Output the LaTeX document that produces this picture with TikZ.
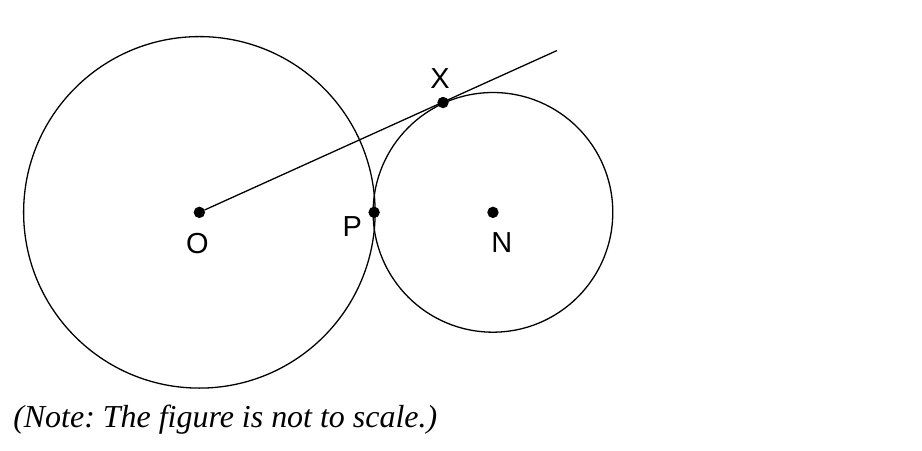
\documentclass[tikz,border=0pt]{standalone}
\usepackage{fontspec}
\setmainfont{Liberation Serif}
\setsansfont{Liberation Sans}
\usetikzlibrary{positioning,calc}
\frenchspacing
\tikzstyle{dot}=[circle,fill=black,draw=black,minimum size=10pt,inner sep=0pt]
\tikzstyle{ptlabel}=[font=\sffamily\fontsize{29}{29}\selectfont]
\tikzstyle{note}=[font=\itshape\fontsize{32}{32}\selectfont,anchor=west,inner sep=0pt]

\begin{document}
\begin{tikzpicture}[x=1pt,y=-1pt,line width=1.3pt]

   \draw[fill=white,draw=white] (0,0) rectangle (922,450);

   \draw (199,212) circle (176);
   \draw (493,212) circle (120);

    \foreach \pos/\name in {{(199,212)/O}, {(374,212)/P}, {(493,212)/N}, {(443,102)/X}}
        \node[dot] (\name) at \pos {};

   \coordinate (tip) at (557,50);
   \draw (O) -- (tip);

\node[ptlabel] (lO) at (197,243) {O};
\node[ptlabel] (lP) at (352,226) {P};
\node[ptlabel] (lN) at (502,242) {N};
\node[ptlabel] (lX) at (440,78) {X};

\node[note] (caption) at (12,420) {(Note: The figure is not to scale.)};

\end{tikzpicture}
\end{document}
